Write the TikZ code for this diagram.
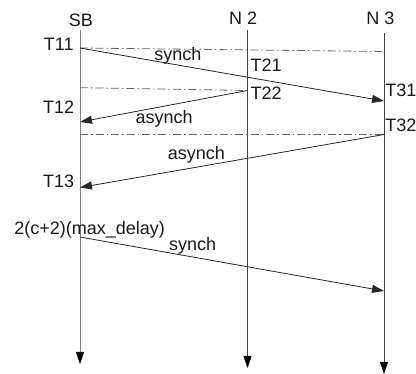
\documentclass[tikz,border=0pt]{standalone}
\usepackage{fontspec}
\setmainfont{Liberation Sans}
\usetikzlibrary{arrows.meta}
\begin{document}
\begin{tikzpicture}[x=1pt,y=-1pt,
  lbl/.style={font=\fontsize{18}{20}\selectfont, anchor=base, inner sep=0pt, text=black!90},
  life/.style={draw=black!75, line width=0.9pt, -{Triangle[length=12pt,width=8pt,fill=black,color=black]}},
  msg/.style={draw=black!85, line width=0.8pt, -{Triangle[length=12pt,width=8pt]}},
  sync/.style={draw=black!60, line width=0.8pt, dash pattern=on 8pt off 3pt on 1.5pt off 3pt}]
\useasboundingbox (0,0) rectangle (416,374);
% lifelines
\coordinate (sbTop) at (80,30);   \coordinate (sbBot) at (80,364);
\coordinate (n2Top) at (247.5,30); \coordinate (n2Bot) at (247.5,368);
\coordinate (n3Top) at (384,33);  \coordinate (n3Bot) at (384,374);
\draw[life, draw=black!50] (sbTop) -- (sbBot);
\draw[life] (n2Top) -- (n2Bot);
\draw[life] (n3Top) -- (n3Bot);
% event points
\coordinate (e11) at (80,48);
\coordinate (e11r) at (384,51.5);
\coordinate (e31) at (384,101);
\coordinate (e12l) at (80,87.7);
\coordinate (e22) at (247.5,90.5);
\coordinate (e12) at (80,122);
\coordinate (e32l) at (80,134.5);
\coordinate (e32) at (384,134.5);
\coordinate (e13) at (80,187.5);
\coordinate (e14) at (80,237);
\coordinate (e33) at (384,291);
% sync (dash-dot) lines
\draw[sync] (e11) -- (e11r);
\draw[sync] (e12l) -- (e22);
\draw[sync] (e32l) -- (e32);
% messages
\draw[msg] (e11) -- (e31);
\draw[msg] (e22) -- (e12);
\draw[msg] (e32) -- (e13);
\draw[msg] (e14) -- (e33);
% labels
\node[lbl] (lSB) at (81,26.7) {SB};
\node[lbl] (lN2) at (243.2,25) {N 2};
\node[lbl] (lN3) at (380.5,25) {N 3};
\node[lbl] (lT11) at (58.7,50.7) {T11};
\node[lbl] (lsy1) at (177.8,61) {synch};
\node[lbl] (lT21) at (266.2,71.7) {T21};
\node[lbl] (lT22) at (266.2,100) {T22};
\node[lbl] (lT31) at (401,96.7) {T31};
\node[lbl] (lT32) at (401,131.7) {T32};
\node[lbl] (lT12) at (58.7,113.3) {T12};
\node[lbl] (las1) at (164.2,123.3) {asynch};
\node[lbl] (las2) at (196.5,159.3) {asynch};
\node[lbl] (lT13) at (58.7,187.3) {T13};
\node[lbl] (lmax) at (89.7,235) {2(c+2)(max\_delay)};
\node[lbl] (lsy2) at (192.7,250.5) {synch};
\end{tikzpicture}
\end{document}
